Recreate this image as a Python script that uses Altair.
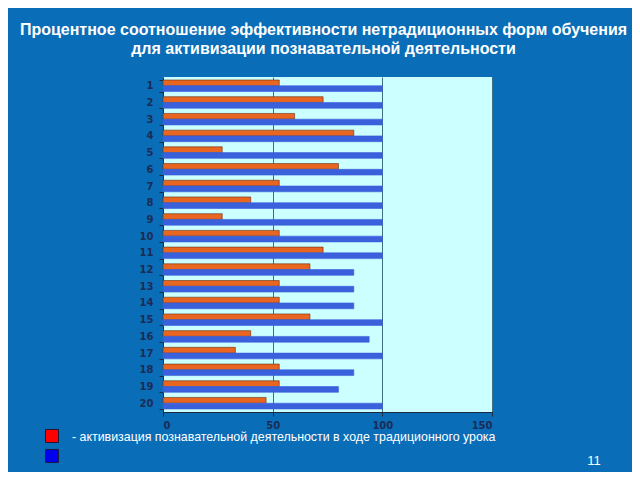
import altair as alt
import pandas as pd

categories = [str(i) for i in range(1, 21)]
orange_vals = [53, 73, 60, 87, 27, 80, 53, 40, 27, 53, 73, 67, 53, 53, 67, 40, 33, 53, 53, 47]
blue_vals = [100, 100, 100, 100, 100, 100, 100, 100, 100, 100, 100, 87, 87, 87, 100, 94, 100, 87, 80, 100]
series = ["традиционный", "нетрадиционный"]
x_ticks = [0, 50, 100, 150]

title_lines = ["Процентное соотношение эффективности нетрадиционных форм обучения",
               "для активизации познавательной деятельности"]
legend_text = "- активизация познавательной деятельности в ходе традиционного урока"
page_no = "11"

rows = []
for c, o, b in zip(categories, orange_vals, blue_vals):
    rows.append({"cat": c, "series": series[0], "value": o})
    rows.append({"cat": c, "series": series[1], "value": b})
df = pd.DataFrame(rows)

W, H = 329, 335

bars = alt.Chart(df).mark_bar(strokeWidth=0.6).encode(
    y=alt.Y("cat:O", sort=categories,
            scale=alt.Scale(paddingInner=0.31, paddingOuter=0.18),
            axis=alt.Axis(title=None, labelColor="#1a2c55", labelFontSize=10,
                          labelFont="DejaVu Sans", labelFontWeight="bold",
                          domainColor="#1a2a40", tickColor="#1a2a40",
                          tickBand="extent", tickSize=4, labelPadding=6,
                          grid=False)),
    yOffset=alt.YOffset("series:N", sort=series),
    x=alt.X("value:Q", scale=alt.Scale(domain=[0, 150], nice=False),
            axis=alt.Axis(title=None, values=x_ticks, labelColor="#1a2c55",
                          labelFontSize=10, labelFont="DejaVu Sans",
                          labelFontWeight="bold", domainColor="#1a2a40",
                          tickColor="#1a2a40", tickSize=4, grid=True,
                          gridColor="#3f6f80", gridWidth=1, labelPadding=4)),
    color=alt.Color("series:N", sort=series,
                    scale=alt.Scale(domain=series, range=["#e8661f", "#3a60dc"]),
                    legend=None),
    stroke=alt.Stroke("series:N", sort=series,
                      scale=alt.Scale(domain=series, range=["#6a2e10", "#3a60dc"]),
                      legend=None),
)

leg_df = pd.DataFrame({"name": ["red", "blue"], "col": ["#ff0000", "#0000ee"],
                       "yy": [359, 379]})
squares = alt.Chart(leg_df).mark_square(size=170, strokeWidth=1, stroke="#1a1a3a",
                                         opacity=1).encode(
    x=alt.value(-111),
    y=alt.Y("yy:Q", scale=None),
    fill=alt.Fill("col:N", scale=None),
)

txt_df = pd.DataFrame({"t": [legend_text]})
leg_text = alt.Chart(txt_df).mark_text(align="left", baseline="middle", color="white",
                                       fontSize=12.4, font="Liberation Sans").encode(
    x=alt.value(-91), y=alt.value(360), text="t:N")

pg_df = pd.DataFrame({"t": [page_no]})
pg_text = alt.Chart(pg_df).mark_text(align="center", baseline="middle", color="white",
                                     fontSize=13, font="Liberation Sans").encode(
    x=alt.value(431), y=alt.value(384), text="t:N")

chart = alt.layer(bars, squares, leg_text, pg_text).properties(
    width=W, height=H,
    autosize=alt.AutoSizeParams(type="none"),
    padding={"left": 155, "top": 69, "right": 140, "bottom": 60},
    background="#0a6db8",
    title=alt.TitleParams(title_lines, color="white", fontSize=16, fontWeight="bold",
                          font="Liberation Sans", anchor="middle", dx=-4, offset=15,
                          lineHeight=19),
).configure_view(fill="#ccffff", stroke=None)

chart.save("out.html", embed_options={"renderer": "svg", "actions": False})
